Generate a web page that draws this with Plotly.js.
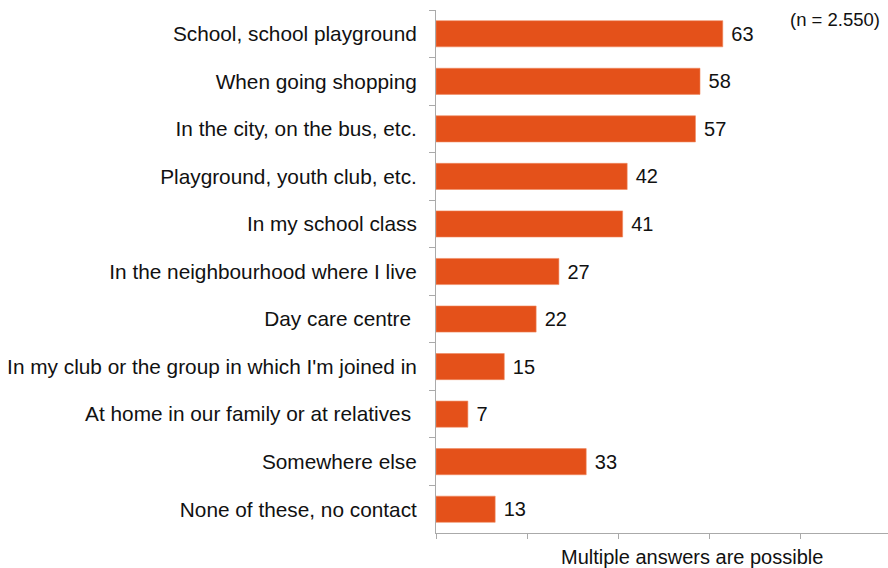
<!DOCTYPE html>
<html><head><meta charset="utf-8">
<script src="https://cdn.plot.ly/plotly-3.0.1.min.js"></script>
<style>html,body{margin:0;padding:0;background:#fff}#c{width:888px;height:568px}</style>
</head><body><div id="c"></div>
<script>
const categories = [
  "School, school playground",
  "When going shopping",
  "In the city, on the bus, etc.",
  "Playground, youth club, etc.",
  "In my school class",
  "In the neighbourhood where I live",
  "Day care centre ",
  "In my club or the group in which I'm joined in",
  "At home in our family or at relatives ",
  "Somewhere else",
  "None of these, no contact"
];
const values = [63, 58, 57, 42, 41, 27, 22, 15, 7, 33, 13];
const xTicks = [0, 20, 40, 60, 80, 100];

const trace = {
  type: 'bar', orientation: 'h',
  x: values, y: categories,
  marker: {color: '#E4511A', line: {color: '#F08A60', width: 0.6}},
  width: 0.55,
  texttemplate: ' %{x}', textposition: 'outside', cliponaxis: false,
  textfont: {family: 'Liberation Sans, Arial, sans-serif', size: 20, color: '#111'},
  hoverinfo: 'none'
};
const layout = {
  width: 888, height: 568,
  margin: {l: 436, r: 0, t: 10, b: 35},
  paper_bgcolor: '#fff', plot_bgcolor: '#fff',
  font: {family: 'Liberation Sans, Arial, sans-serif', size: 20.8, color: '#111'},
  showlegend: false,
  uniformtext: {mode: false},
  xaxis: {range: [0, 99.3], tickvals: xTicks, showticklabels: false, ticks: 'outside',
          ticklen: 5, tickcolor: '#aaa', showline: true, linecolor: '#aaa', linewidth: 1,
          showgrid: false, zeroline: false, fixedrange: true},
  yaxis: {type: 'category', categoryorder: 'array', categoryarray: categories, autorange: 'reversed',
          ticks: 'outside', tickson: 'boundaries', ticklen: 6, tickcolor: '#aaa',
          showline: true, linecolor: '#aaa', linewidth: 1, showgrid: false, zeroline: false,
          ticklabelstandoff: 14, fixedrange: true},
  annotations: [
    {text: '(n = 2.550)', xref: 'paper', yref: 'paper', x: 1.0, y: 0.982, xanchor: 'right', yanchor: 'middle',
     xshift: -6, showarrow: false, font: {size: 18.5}},
    {text: 'Multiple answers are possible', xref: 'paper', yref: 'paper', x: 0.567, y: -0.0455,
     xanchor: 'center', yanchor: 'middle', showarrow: false, font: {size: 20}}
  ]
};
Plotly.newPlot('c', [trace], layout, {displayModeBar: false, staticPlot: true});
</script></body></html>
